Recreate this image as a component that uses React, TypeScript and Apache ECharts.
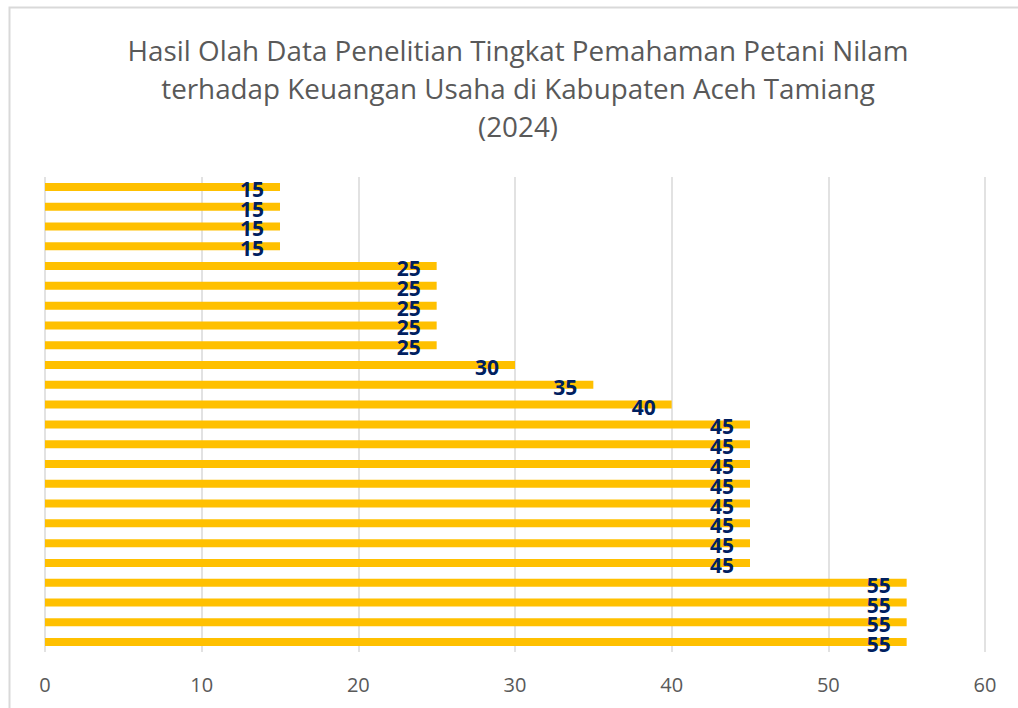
import React, { useEffect, useRef } from "react";
import * as echarts from "echarts";

const categories = Array.from({ length: 24 }, (_, i) => `R${i + 1}`);
const values = [15, 15, 15, 15, 25, 25, 25, 25, 25, 30, 35, 40, 45, 45, 45, 45, 45, 45, 45, 45, 55, 55, 55, 55];
const xTicks = [0, 10, 20, 30, 40, 50, 60];
const titleLines = [
  "Hasil Olah Data Penelitian Tingkat Pemahaman Petani Nilam",
  "terhadap Keuangan Usaha di Kabupaten Aceh Tamiang",
  "(2024)",
];

export default function App() {
  const ref = useRef<HTMLDivElement>(null);
  useEffect(() => {
    const chart = echarts.init(ref.current!, null, { renderer: "svg" });
    chart.setOption({
      animation: false,
      backgroundColor: "#ffffff",
      graphic: [
        {
          type: "rect",
          shape: { x: 9.5, y: 7.5, width: 1030, height: 730 },
          style: { fill: "none", stroke: "#d9d9d9", lineWidth: 2 },
          silent: true,
        },
        ...titleLines.map((t, i) => ({
          type: "text",
          x: 518,
          y: 50 + i * 38,
          silent: true,
          style: {
            text: t,
            fontFamily: "Open Sans",
            fontSize: 27.8,
            fill: "#595959",
            textAlign: "center",
            textVerticalAlign: "middle",
          },
        })),
      ],
      grid: { left: 45, right: 33, top: 177, bottom: 56 },
      xAxis: {
        type: "value",
        min: 0,
        max: 60,
        interval: 10,
        axisLine: { show: false },
        axisTick: { show: false },
        splitLine: { show: true, lineStyle: { color: "#d9d9d9", width: 1.5 } },
        axisLabel: {
          color: "#595959",
          fontSize: 20,
          fontFamily: "Open Sans",
          margin: 22,
          formatter: (v: number) => (xTicks.includes(v) ? String(v) : ""),
        },
      },
      yAxis: {
        type: "category",
        data: categories,
        inverse: true,
        axisLine: { show: false },
        axisTick: { show: false },
        axisLabel: { show: false },
        splitLine: { show: false },
      },
      series: [
        {
          type: "bar",
          data: values,
          barWidth: 8,
          itemStyle: { color: "#FFC000" },
          label: {
            show: true,
            position: "insideRight",
            distance: 16,
            offset: [0, 2],
            color: "#002060",
            fontWeight: "bold",
            fontSize: 21,
            fontFamily: "Open Sans",
          },
        },
      ],
    });
    return () => chart.dispose();
  }, []);
  return (
    <div
      ref={ref}
      style={{ position: "fixed", left: 0, top: 0, width: 1018, height: 708 }}
    />
  );
}
